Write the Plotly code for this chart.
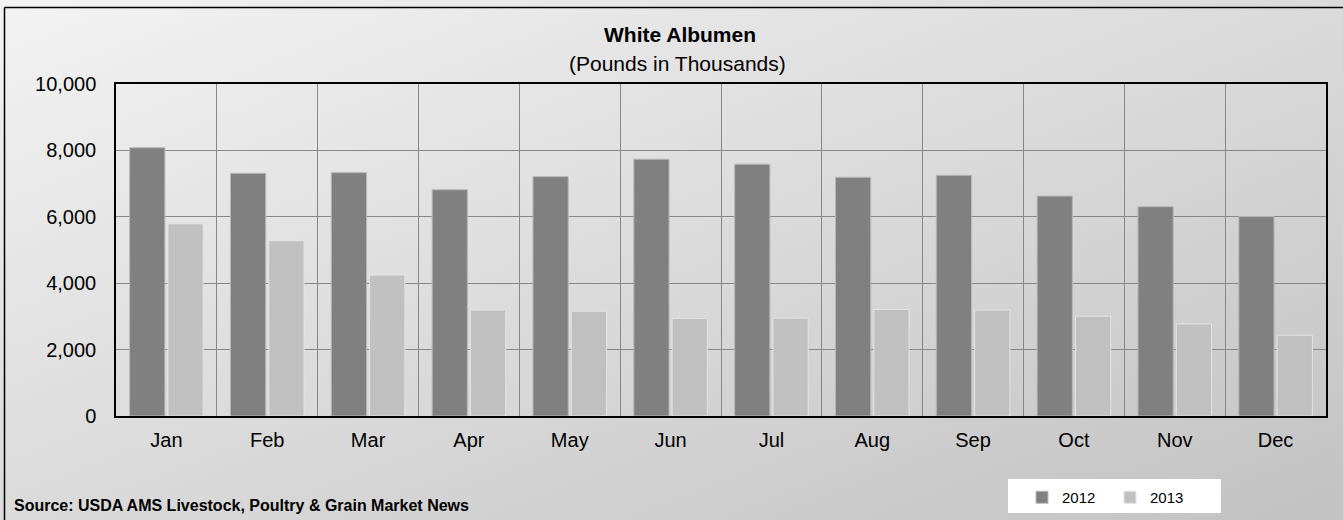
import base64
import plotly.graph_objects as go

months = ["Jan", "Feb", "Mar", "Apr", "May", "Jun", "Jul", "Aug", "Sep", "Oct", "Nov", "Dec"]
values_2012 = [8080, 7310, 7330, 6815, 7210, 7735, 7585, 7190, 7250, 6625, 6305, 6005]
values_2013 = [5790, 5280, 4245, 3190, 3158, 2938, 2947, 3210, 3190, 3007, 2775, 2434]
series_names = ["2012", "2013"]
y_ticks = [0, 2000, 4000, 6000, 8000, 10000]

W, H = 1343, 520
ML, MR, MT, MB = 116, 17, 84, 104
PW, PH = W - ML - MR, H - MT - MB


def px(xp):
    return (xp - ML) / PW


def py(yp):
    return 1 - (yp - MT) / PH


FONT = "Liberation Sans, Arial, sans-serif"

svg = (
    f'<svg xmlns="http://www.w3.org/2000/svg" width="{W}" height="{H}" viewBox="0 0 {W} {H}" preserveAspectRatio="none">'
    '<defs><linearGradient id="g" x1="0" y1="0" x2="1" y2="1">'
    '<stop offset="0" stop-color="#f3f3f3"/><stop offset="1" stop-color="#c2c2c2"/>'
    '</linearGradient></defs>'
    f'<rect x="0" y="0" width="{W}" height="{H}" fill="url(#g)"/>'
    '</svg>'
)
src = "data:image/svg+xml;base64," + base64.b64encode(svg.encode()).decode()

fig = go.Figure()
fig.add_trace(go.Bar(x=months, y=values_2012, name=series_names[0],
                     marker=dict(color="#808080", line=dict(color="#b8b8b8", width=1))))
fig.add_trace(go.Bar(x=months, y=values_2013, name=series_names[1],
                     marker=dict(color="#c0c0c0", line=dict(color="#e4e4e4", width=1))))

shapes = [
    # outer frame (top and left edges visible)
    dict(type="line", xref="paper", yref="paper", x0=px(4.5), x1=px(W + 5), y0=py(7.5), y1=py(7.5),
         line=dict(color="black", width=1.5), layer="above"),
    dict(type="line", xref="paper", yref="paper", x0=px(4.5), x1=px(4.5), y0=py(7.5), y1=py(H + 5),
         line=dict(color="black", width=1.5), layer="above"),
    # legend box
    dict(type="rect", xref="paper", yref="paper", x0=px(1008), x1=px(1221), y0=py(513), y1=py(479),
         fillcolor="white", line=dict(width=0), layer="above"),
]

fig.update_layout(
    width=W, height=H,
    margin=dict(l=ML, r=MR, t=MT, b=MB, pad=0, autoexpand=False),
    paper_bgcolor="#dcdcdc",
    plot_bgcolor="white",
    barmode="group",
    bargap=0.24,
    bargroupgap=0.08,
    font=dict(family=FONT, color="black", size=20),
    images=[dict(source=src, xref="paper", yref="paper",
                 x=px(0), y=py(0), sizex=W / PW, sizey=H / PH,
                 xanchor="left", yanchor="top", sizing="stretch", layer="below")],
    shapes=shapes,
    xaxis=dict(type="category", tickson="boundaries", showgrid=True, gridcolor="#878787", gridwidth=1,
               showline=True, linecolor="black", linewidth=1.5, mirror=True, automargin=False,
               ticks="", ticklabelstandoff=5, tickfont=dict(size=20)),
    yaxis=dict(range=[0, 10000], tickvals=y_ticks, tickformat=",d", showgrid=True,
               gridcolor="#878787", gridwidth=1, zeroline=False, automargin=False,
               showline=True, linecolor="black", linewidth=1.5, mirror=True,
               ticks="", ticklabelstandoff=14, tickfont=dict(size=20)),
    legend=dict(orientation="h", x=px(1022), y=py(481),
                xanchor="left", yanchor="top", bgcolor="rgba(0,0,0,0)",
                font=dict(size=15), entrywidth=43, itemwidth=30),
    showlegend=True,
    annotations=[
        dict(text="<b>White Albumen</b>", xref="paper", yref="paper",
             x=px(680), y=py(35), showarrow=False,
             xanchor="center", yanchor="middle", font=dict(size=21)),
        dict(text="(Pounds in Thousands)", xref="paper", yref="paper",
             x=px(677), y=py(63), showarrow=False,
             xanchor="center", yanchor="middle", font=dict(size=21)),
        dict(text="<b>Source: USDA AMS Livestock, Poultry &amp; Grain Market News</b>",
             xref="paper", yref="paper", x=px(12), y=py(505),
             showarrow=False, xanchor="left", yanchor="middle", font=dict(size=16)),
    ],
)

fig.write_html("out.html", config={"displayModeBar": False},
               post_script="document.body.style.margin='0';document.body.style.overflow='hidden';")
